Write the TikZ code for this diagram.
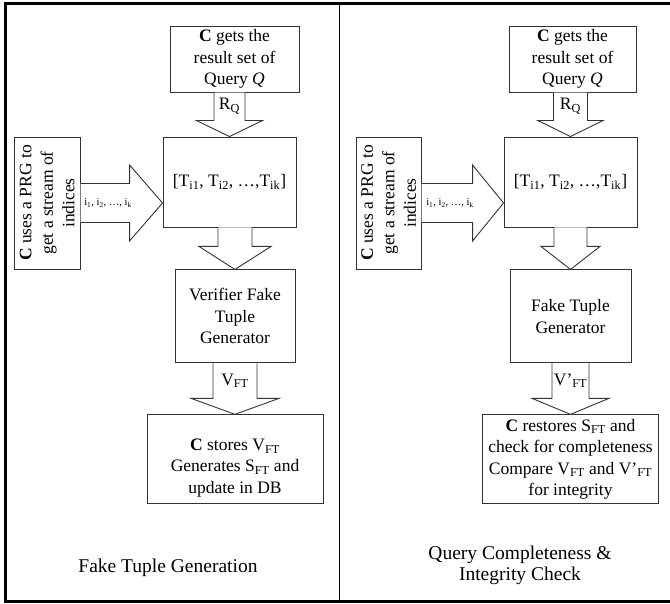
\documentclass[tikz,border=0pt]{standalone}
\usepackage{fontspec}
\setmainfont{Liberation Serif}
\usetikzlibrary{positioning,calc}

\newcommand{\boxfont}{\fontsize{17.5}{21.5}\selectfont}
\newcommand{\titlefont}{\fontsize{19.5}{21}\selectfont}
\newcommand{\idxfont}{\fontsize{10.5}{12}\selectfont}

% fat arrow going down from #1 into #2
% #3 shaft half width, #4 head half width, #5 head length, #6 label
\newcommand{\downblock}[6]{%
  \path (#1.south -| #2.north) coordinate (base);
  \path ($(#2.north)+(0,#5)$) coordinate (neck);
  \draw[blockarrow] ($(base)+(-#3,0)$) -- ($(neck)+(-#3,0)$) -- ($(neck)+(-#4,0)$)
    -- (#2.north) -- ($(neck)+(#4,0)$) -- ($(neck)+(#3,0)$) -- ($(base)+(#3,0)$);
  \node[flowlabel] at ($(base)!0.5!(neck)$) {#6};
}
% fat arrow going right from #1 into #2
\newcommand{\rightblock}[6]{%
  \path (#1.east) coordinate (base);
  \path (#1.east -| #2.west) coordinate (tip);
  \path ($(tip)+(-#5,0)$) coordinate (neck);
  \draw[blockarrow] ($(base)+(0,#3)$) -- ($(neck)+(0,#3)$) -- ($(neck)+(0,#4)$)
    -- (tip) -- ($(neck)+(0,-#4)$) -- ($(neck)+(0,-#3)$) -- ($(base)+(0,-#3)$);
  \node[idxlabel] at ($(base)!0.5!(neck)+(3,0)$) {#6};
}

\begin{document}
\begin{tikzpicture}[x=1pt,y=1pt,
  box/.style={draw=black!80, line width=0.9pt, align=center, font=\boxfont, inner sep=2pt},
  boxtext/.style={align=center, font=\boxfont, inner sep=0pt},
  blockarrow/.style={draw=black!80, line width=0.9pt, fill=white, line join=miter},
  flowlabel/.style={font=\boxfont, inner sep=1pt},
  idxlabel/.style={font=\idxfont, inner sep=1pt},
  caption/.style={align=center, font=\titlefont}]
  \useasboundingbox (0,0) rectangle (670,-604);

  % frame and the line between the two halves
  \draw[line width=3pt] (670,-3.5) -- (5,-3.5) -- (5,-601) -- (670,-601);
  \draw[line width=1pt] (339,-3.5) -- (339,-601);

  % left half
  \node[box, minimum width=133, minimum height=90] (tlist) at (229.5,-182)
    {[T\textsubscript{i1}, T\textsubscript{i2}, \dots,T\textsubscript{ik}]};
  \node[box, minimum width=129, minimum height=66, above=44pt of tlist, xshift=5pt] (query)
    {\textbf{C} gets the\\result set of\\Query \textit{Q}};
  \node[box, minimum width=66, minimum height=132, left=82pt of tlist.north west, anchor=north east] (prg) {};
  \node[boxtext, rotate=90] (prgtext) at (prg) {\textbf{C} uses a PRG to\\get a stream of\\indices};
  \node[box, minimum width=120, minimum height=93, below=42pt of tlist, xshift=5.5pt] (verif)
    {Verifier Fake\\Tuple\\Generator};
  \node[box, minimum width=176, minimum height=89, below=51pt of verif] (store)
    {\rule{0pt}{29pt}\textbf{C} stores V\textsubscript{FT}\\Generates S\textsubscript{FT} and\\update in DB};
  \node[caption] (gentitle) at (168,-568) {Fake Tuple Generation};

  \downblock{query}{tlist}{15.5}{33}{16}{R\textsubscript{Q}}
  \rightblock{prg}{tlist}{19.5}{38}{33}{i\textsubscript{1}, i\textsubscript{2}, \dots, i\textsubscript{k}}
  \downblock{tlist}{verif}{17}{36}{23}{}
  \downblock{verif}{store}{22}{44}{16}{V\textsubscript{FT}}

  % right half
  \node[box, minimum width=133, minimum height=90] (tlist2) at (570.5,-182)
    {[T\textsubscript{i1}, T\textsubscript{i2}, \dots,T\textsubscript{ik}]};
  \node[box, minimum width=127, minimum height=66, above=44pt of tlist2, xshift=2pt] (query2)
    {\textbf{C} gets the\\result set of\\Query \textit{Q}};
  \node[box, minimum width=65, minimum height=132, left=82pt of tlist2.north west, anchor=north east] (prg2) {};
  \node[boxtext, rotate=90] (prgtext2) at (prg2) {\textbf{C} uses a PRG to\\get a stream of\\indices};
  \node[box, minimum width=121, minimum height=93, below=42pt of tlist2] (fake2)
    {Fake Tuple\\Generator};
  \node[box, minimum width=176, minimum height=89, below=51pt of fake2] (check2)
    {\textbf{C} restores S\textsubscript{FT} and\\check for completeness\\Compare V\textsubscript{FT} and V’\textsubscript{FT}\\for integrity};
  \node[caption] (chktitle) at (520,-565.5) {Query Completeness \&\\Integrity Check};

  \downblock{query2}{tlist2}{17}{32.5}{16}{R\textsubscript{Q}}
  \rightblock{prg2}{tlist2}{19.5}{38}{31}{i\textsubscript{1}, i\textsubscript{2}, \dots, i\textsubscript{k}}
  \downblock{tlist2}{fake2}{16.5}{29.5}{23}{}
  \downblock{fake2}{check2}{18.5}{38.5}{16}{V’\textsubscript{FT}}
\end{tikzpicture}
\end{document}
